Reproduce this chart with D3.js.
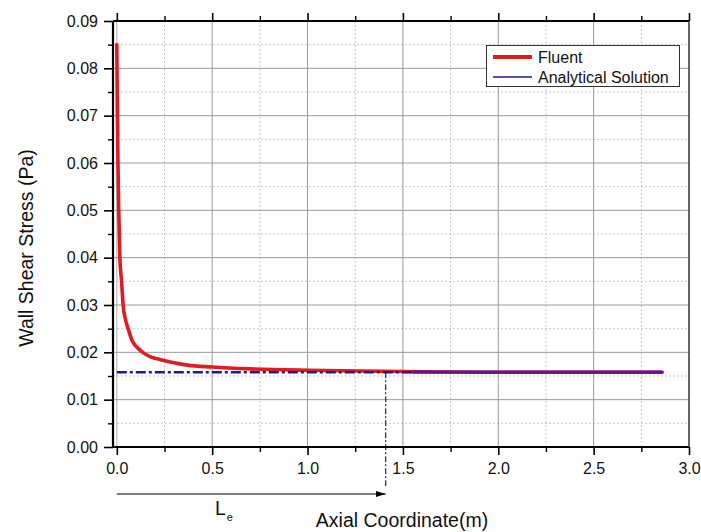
<!DOCTYPE html>
<html>
<head>
<meta charset="utf-8">
<script src="https://cdn.jsdelivr.net/npm/d3@7"></script>
<style>
  html, body { margin: 0; padding: 0; background: #fff; }
  svg { display: block; font-family: "Liberation Sans", Arial, sans-serif; }
</style>
</head>
<body>
<svg id="chart" width="701" height="532"></svg>
<script>
// ---- data ----
const fluentX = [0, 0.003, 0.006, 0.01, 0.016, 0.025, 0.033, 0.045, 0.059, 0.08, 0.1, 0.136, 0.18, 0.225, 0.3, 0.37, 0.5, 0.7, 1.0, 1.4, 1.6, 2.0, 2.5, 2.86];
const fluentY = [0.085, 0.07, 0.06, 0.05, 0.04, 0.035, 0.03, 0.027, 0.025, 0.0225, 0.0213, 0.02, 0.019, 0.0185, 0.0178, 0.0173, 0.0169, 0.0165, 0.0162, 0.016, 0.0159, 0.0158, 0.0158, 0.0158];
const analyticalX = [0, 1.55, 2.86];
const analyticalY = [0.0158, 0.0158, 0.0158];
const entranceLength = 1.41;
const xTicks = [0.0, 0.5, 1.0, 1.5, 2.0, 2.5, 3.0];
const xMinorTicks = [0.25, 0.75, 1.25, 1.75, 2.25, 2.75];
const yTicks = [0.00, 0.01, 0.02, 0.03, 0.04, 0.05, 0.06, 0.07, 0.08, 0.09];
const yMinorTicks = [0.005, 0.015, 0.025, 0.035, 0.045, 0.055, 0.065, 0.075, 0.085];
const seriesNames = ["Fluent", "Analytical Solution"];
const xTitle = "Axial Coordinate(m)";
const yTitle = "Wall Shear Stress (Pa)";

// ---- layout ----
const L = 113, R = 689, T = 21, B = 447;
const svg = d3.select("#chart");
svg.append("rect").attr("width", 701).attr("height", 532).attr("fill", "#fff");

const x = d3.scaleLinear().domain([-0.02, 3.0]).range([L, R]);
const y = d3.scaleLinear().domain([0, 0.09]).range([B, T]);

// grid
const grid = svg.append("g");
grid.selectAll(".vmin").data(xMinorTicks).enter().append("line")
  .attr("x1", d => x(d)).attr("x2", d => x(d)).attr("y1", T).attr("y2", B)
  .attr("stroke", "#c8c8c8").attr("stroke-width", 1).attr("stroke-dasharray", "2,2");
grid.selectAll(".hmin").data(yMinorTicks).enter().append("line")
  .attr("x1", L).attr("x2", R).attr("y1", d => y(d)).attr("y2", d => y(d))
  .attr("stroke", "#c8c8c8").attr("stroke-width", 1).attr("stroke-dasharray", "2,2");
grid.selectAll(".vmaj").data(xTicks.filter(d => d > 0 && d < 3)).enter().append("line")
  .attr("x1", d => x(d)).attr("x2", d => x(d)).attr("y1", T).attr("y2", B)
  .attr("stroke", "#9a9a9a").attr("stroke-width", 1);
grid.append("line").attr("x1", x(0)).attr("x2", x(0)).attr("y1", T).attr("y2", B)
  .attr("stroke", "#b0b0b0").attr("stroke-width", 1);
grid.selectAll(".hmaj").data(yTicks.filter(d => d > 0 && d < 0.09)).enter().append("line")
  .attr("x1", L).attr("x2", R).attr("y1", d => y(d)).attr("y2", d => y(d))
  .attr("stroke", "#9a9a9a").attr("stroke-width", 1);

// curves
const fluent = fluentX.map((v, i) => [v, fluentY[i]]);
const analytical = analyticalX.map((v, i) => [v, analyticalY[i]]);
const line = d3.line().x(d => x(d[0])).y(d => y(d[1])).curve(d3.curveMonotoneX);

svg.append("path").datum(fluent).attr("d", line)
  .attr("fill", "none").attr("stroke", "#e01b22").attr("stroke-width", 3.6)
  .attr("stroke-linejoin", "round").attr("stroke-linecap", "round");

svg.append("path").datum(analytical.slice(0, 2)).attr("d", d3.line().x(d => x(d[0])).y(d => y(d[1])))
  .attr("fill", "none").attr("stroke", "#1c1c8e").attr("stroke-width", 2.5)
  .attr("stroke-dasharray", "10,3,3,3");
svg.append("path").datum(analytical.slice(1)).attr("d", d3.line().x(d => x(d[0])).y(d => y(d[1])))
  .attr("fill", "none").attr("stroke", "#5a1a8e").attr("stroke-width", 3.2);

// axes
const fmtY = d3.format(".2f"), fmtX = d3.format(".1f");
const axisFont = g => g.selectAll("text").attr("font-size", 16).attr("fill", "#111")
  .attr("font-family", "'Liberation Sans', Arial, sans-serif");

// left
const gl = svg.append("g").attr("transform", `translate(${L},0)`)
  .call(d3.axisLeft(y).tickValues(yTicks).tickFormat(fmtY).tickSize(9).tickPadding(6).tickSizeOuter(0));
gl.select(".domain").remove();
gl.selectAll(".tick line").attr("stroke", "#000").attr("stroke-width", 1.6);
axisFont(gl);
svg.append("g").attr("transform", `translate(${L},0)`)
  .call(d3.axisLeft(y).tickValues(yMinorTicks).tickFormat("").tickSize(5).tickSizeOuter(0))
  .call(g => g.select(".domain").remove())
  .selectAll(".tick line").attr("stroke", "#000").attr("stroke-width", 1.4);

// bottom
const gb = svg.append("g").attr("transform", `translate(0,${B})`)
  .call(d3.axisBottom(x).tickValues(xTicks).tickFormat(fmtX).tickSize(8).tickPadding(8).tickSizeOuter(0));
gb.select(".domain").remove();
gb.selectAll(".tick line").attr("stroke", "#000").attr("stroke-width", 1.6);
axisFont(gb);
svg.append("g").attr("transform", `translate(0,${B})`)
  .call(d3.axisBottom(x).tickValues(xMinorTicks).tickFormat("").tickSize(5).tickSizeOuter(0))
  .call(g => g.select(".domain").remove())
  .selectAll(".tick line").attr("stroke", "#000").attr("stroke-width", 1.4);

// top
svg.append("g").attr("transform", `translate(0,${T})`)
  .call(d3.axisTop(x).tickValues(xTicks).tickFormat("").tickSize(8).tickSizeOuter(0))
  .call(g => g.select(".domain").remove())
  .selectAll(".tick line").attr("stroke", "#000").attr("stroke-width", 1.6);
svg.append("g").attr("transform", `translate(0,${T})`)
  .call(d3.axisTop(x).tickValues(xMinorTicks).tickFormat("").tickSize(5).tickSizeOuter(0))
  .call(g => g.select(".domain").remove())
  .selectAll(".tick line").attr("stroke", "#000").attr("stroke-width", 1.4);

// frame
svg.append("line").attr("x1", L).attr("x2", R).attr("y1", T).attr("y2", T).attr("stroke", "#000").attr("stroke-width", 2);
svg.append("line").attr("x1", L).attr("x2", R).attr("y1", B).attr("y2", B).attr("stroke", "#000").attr("stroke-width", 2);
svg.append("line").attr("x1", L).attr("x2", L).attr("y1", T).attr("y2", B).attr("stroke", "#000").attr("stroke-width", 2.2);
svg.append("line").attr("x1", R).attr("x2", R).attr("y1", T).attr("y2", B).attr("stroke", "#333").attr("stroke-width", 1.5);

// titles
svg.append("text").attr("x", 402).attr("y", 527).attr("text-anchor", "middle")
  .attr("font-size", 19.5).attr("fill", "#111").text(xTitle);
svg.append("text").attr("transform", "translate(33,248) rotate(-90)").attr("text-anchor", "middle")
  .attr("font-size", 19.5).attr("fill", "#111").text(yTitle);

// entrance length annotation
const yCurveAtLe = y(analyticalY[0]);
svg.append("line").attr("x1", x(entranceLength)).attr("x2", x(entranceLength))
  .attr("y1", yCurveAtLe).attr("y2", 486)
  .attr("stroke", "#000").attr("stroke-width", 1).attr("stroke-dasharray", "6,2,2,2");
svg.append("defs").append("marker").attr("id", "arrow")
  .attr("viewBox", "0 0 10 6").attr("refX", 10).attr("refY", 3)
  .attr("markerWidth", 10).attr("markerHeight", 6).attr("markerUnits", "userSpaceOnUse")
  .attr("orient", "auto")
  .append("path").attr("d", "M0,0 L10,3 L0,6 Z").attr("fill", "#000");
svg.append("line").attr("x1", x(0)).attr("x2", x(entranceLength)).attr("y1", 494).attr("y2", 494)
  .attr("stroke", "#000").attr("stroke-width", 1).attr("marker-end", "url(#arrow)");
const le = svg.append("text").attr("x", 215).attr("y", 515).attr("font-size", 19.5).attr("fill", "#111");
le.append("tspan").text("L");
le.append("tspan").attr("dy", 6).attr("dx", 1).attr("font-size", 11).text("e");

// legend
const lg = svg.append("g");
lg.append("rect").attr("x", 486.5).attr("y", 45.5).attr("width", 193).attr("height", 41)
  .attr("fill", "#fff").attr("stroke", "#333").attr("stroke-width", 1);
lg.append("line").attr("x1", 493).attr("x2", 532).attr("y1", 57).attr("y2", 57)
  .attr("stroke", "#e01b22").attr("stroke-width", 4);
lg.append("line").attr("x1", 493).attr("x2", 532).attr("y1", 77).attr("y2", 77)
  .attr("stroke", "#1c1c8e").attr("stroke-width", 1.5);
lg.append("text").attr("x", 538).attr("y", 63).attr("font-size", 16).attr("fill", "#111").text(seriesNames[0]);
lg.append("text").attr("x", 538).attr("y", 83).attr("font-size", 16).attr("fill", "#111").text(seriesNames[1]);
</script>
</body>
</html>
